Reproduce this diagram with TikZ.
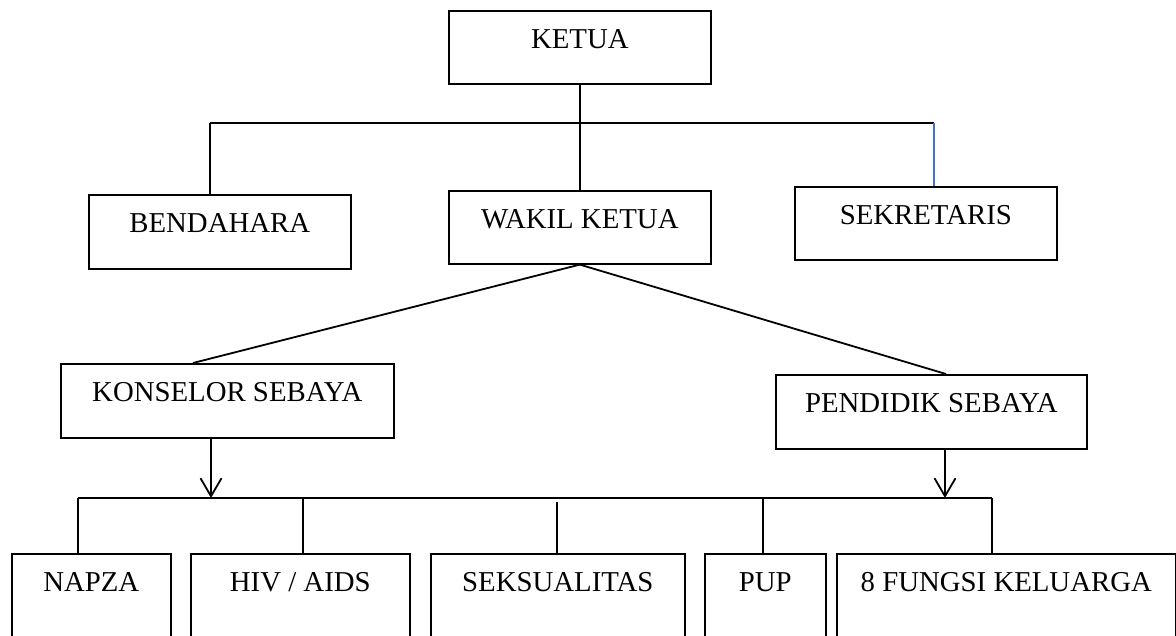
\documentclass[tikz,border=0pt]{standalone}
\usepackage{fontspec}
\setmainfont{Liberation Serif}
\usetikzlibrary{arrows.meta}
\definecolor{seklink}{HTML}{4472C4}
\tikzset{
  orgbox/.style={draw, line width=1.6pt, anchor=north west, inner xsep=0pt,
    inner ysep=18.5pt, text height=19pt, align=center,
    font=\fontsize{28.8}{34}\selectfont},
  link/.style={line width=1.8pt},
  buslink/.style={line width=2.4pt},
  arrowlink/.style={line width=1.8pt, -{Straight Barb[length=18pt,width=21pt,line width=1.8pt]}}
}
\begin{document}
\begin{tikzpicture}[x=1pt,y=-1pt]
\useasboundingbox (0,0) rectangle (1176,635);
\clip (0,0) rectangle (1176,635);
% boxes
\node[orgbox, minimum width=262pt, text depth=17pt] (ketua) at (448,10) {KETUA};
\node[orgbox, minimum width=262pt, text depth=18pt] (bendahara) at (88,194) {BENDAHARA};
\node[orgbox, minimum width=262pt, text depth=17pt] (wakil) at (448,190) {WAKIL KETUA};
\node[orgbox, minimum width=262pt, text depth=17pt] (sekretaris) at (794,186) {SEKRETARIS};
\node[orgbox, minimum width=333pt, text depth=18pt] (konselor) at (60,363) {KONSELOR SEBAYA};
\node[orgbox, minimum width=311pt, text depth=18pt] (pendidik) at (775,374) {PENDIDIK SEBAYA};
\node[orgbox, minimum width=159pt, text depth=34pt] (napza) at (11,553) {NAPZA};
\node[orgbox, minimum width=219pt, text depth=34pt] (hiv) at (190,553) {HIV / AIDS};
\node[orgbox, minimum width=254pt, text depth=34pt] (seks) at (430,553) {SEKSUALITAS};
\node[orgbox, minimum width=121pt, text depth=34pt] (pup) at (704,553) {PUP};
\node[orgbox, minimum width=339pt, text depth=34pt] (fungsi) at (836,553) {8 FUNGSI KELUARGA};
% coordinates
\coordinate (topL) at (210,123);
\coordinate (topR) at (934,123);
\coordinate (kx) at (193,0);
\coordinate (px) at (946,0);
\coordinate (ka) at (211,0);
\coordinate (pa) at (945,450);
\coordinate (botL) at (78,498);
\coordinate (botR) at (992,498);
\coordinate (hx) at (303,0);
\coordinate (sx) at (557,502);
\coordinate (ux) at (763,0);
% top level
\draw[link] (ketua.south) -- (wakil.north);
\draw[buslink] (topL) -- (topR);
\draw[link] (topL) -- (topL |- bendahara.north);
\draw[seklink, line width=1.3pt] (topR) -- (topR |- sekretaris.north);
% wakil to the two sebaya boxes
\draw[link] (wakil.south) -- (kx |- konselor.north);
\draw[link] (wakil.south) -- (px |- pendidik.north);
% arrows to the bottom bus
\draw[arrowlink] (ka |- konselor.south) -- (ka |- botL);
\draw[arrowlink] (pa) -- (pa |- botL);
\draw[buslink] (botL) -- (botR);
% drops
\draw[link] (botL) -- (botL |- napza.north);
\draw[link] (hx |- botL) -- (hx |- hiv.north);
\draw[link] (sx) -- (sx |- seks.north);
\draw[link] (ux |- botL) -- (ux |- pup.north);
\draw[link] (botR) -- (botR |- fungsi.north);
\end{tikzpicture}
\end{document}
